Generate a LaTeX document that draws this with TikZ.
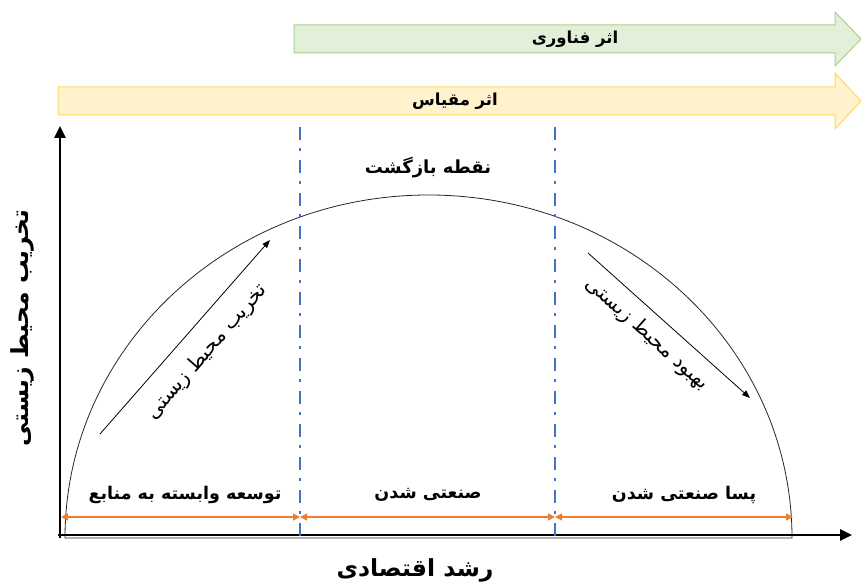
\documentclass[tikz,border=0pt]{standalone}
\usepackage{fontspec}
\usetikzlibrary{arrows.meta}
\TeXXeTstate=1
\newfontfamily\arabicfont[Script=Arabic]{DejaVu Sans}
\definecolor{greenfill}{HTML}{E2EFD9}
\definecolor{greenline}{HTML}{A9D18E}
\definecolor{yellowfill}{HTML}{FFF2CC}
\definecolor{yellowline}{HTML}{FFD966}
\definecolor{dashblue}{HTML}{4472C4}
\definecolor{orng}{HTML}{ED7D31}
\begin{document}
\begin{tikzpicture}[x=1pt,y=-1pt]
\tikzset{
  toplbl/.style={font=\arabicfont\bfseries\fontsize{16.5}{19}\selectfont, inner sep=0pt},
  lbl/.style={font=\arabicfont\bfseries\fontsize{17.5}{20}\selectfont, inner sep=0pt},
  biglbl/.style={font=\arabicfont\bfseries\fontsize{23.5}{26}\selectfont, inner sep=0pt},
  diaglbl/.style={font=\arabicfont\fontsize{20}{22}\selectfont, inner sep=0pt},
  axisline/.style={line width=2.6pt, -{Triangle[length=12pt,width=11pt]}},
  phase/.style={draw=dashblue, line width=2pt, dash pattern=on 13pt off 8pt on 3pt off 9pt},
  span/.style={draw=orng, line width=1.4pt, {Triangle[length=7pt,width=7pt]}-{Triangle[length=7pt,width=7pt]}},
  trend/.style={draw=black, line width=0.8pt, -{Triangle[length=8pt,width=6pt]}}
}
\useasboundingbox (0,0) rectangle (861,585);
% block arrows
\fill[greenfill, draw=greenline, line width=1pt] (294,25) -- (835,25) -- (835,12) -- (861,39) -- (835,66) -- (835,53) -- (294,53) -- cycle;
\node[toplbl] (tech) at (575,39) {\beginR اثر فناوری\endR};
\fill[yellowfill, draw=yellowline, line width=1pt] (58,87) -- (835,87) -- (835,73) -- (861,101) -- (835,129) -- (835,115) -- (58,115) -- cycle;
\node[toplbl] (scale) at (455,101) {\beginR اثر مقیاس\endR};
% semicircle
\draw[black!85, line width=0.8pt] (792,538) -- (65,538) arc[start angle=180, end angle=0, x radius=363.5pt, y radius=343pt] -- cycle;
% axes
\coordinate (ytip) at (60,126);
\coordinate (xtip) at (852,535);
\draw[axisline] (60,538) -- (ytip);
\draw[axisline] (58,535) -- (xtip);
% phase lines
\coordinate (p1t) at (300,127);
\coordinate (p1b) at (300,541);
\coordinate (p2t) at (555,127);
\coordinate (p2b) at (555,541);
\draw[phase] (p1t) -- (p1b);
\draw[phase] (p2t) -- (p2b);
% spans
\coordinate (s0) at (61,517);
\coordinate (s1) at (300,517);
\coordinate (s2) at (555,517);
\coordinate (s3) at (793,517);
\draw[span] (s0) -- (s1);
\draw[span] (s1) -- (s2);
\draw[span] (s2) -- (s3);
\node[lbl] (ph1) at (185,495) {\beginR توسعه وابسته به منابع\endR};
\node[lbl] (ph2) at (428,495) {\beginR صنعتی شدن\endR};
\node[lbl] (ph3) at (684,495) {\beginR پسا صنعتی شدن\endR};
% turning point
\node[lbl, font=\arabicfont\bfseries\fontsize{18}{20}\selectfont] (turn) at (428,168) {\beginR نقطه بازگشت\endR};
% axis labels
\node[biglbl] (xlab) at (415,570) {\beginR رشد اقتصادی\endR};
\node[biglbl, rotate=90] (ylab) at (22,328) {\beginR تخریب محیط زیستی\endR};
% trend arrows
\coordinate (a1s) at (100,434);
\coordinate (a1e) at (270,240);
\draw[trend] (a1s) -- (a1e);
\node[diaglbl, rotate=48.8] (t1) at (207,352) {\beginR تخریب محیط زیستی\endR};
\coordinate (a2s) at (588,253);
\coordinate (a2e) at (750,398);
\draw[trend] (a2s) -- (a2e);
\node[diaglbl, rotate=-41.8] (t2) at (647,334) {\beginR بهبود محیط زیستی\endR};
\end{tikzpicture}
\end{document}
